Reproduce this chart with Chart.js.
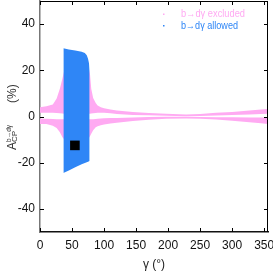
<!DOCTYPE html>
<html>
<head>
<meta charset="utf-8">
<script src="https://cdn.jsdelivr.net/npm/chart.js@4.4.1/dist/chart.umd.min.js"></script>
<style>
  html, body { margin: 0; padding: 0; background: #fff; }
  #wrap { width: 273px; height: 273px; }
</style>
</head>
<body>
<div id="wrap"><canvas id="chart" width="273" height="273"></canvas></div>
<script>
// tick labels
const xTicks = [0, 50, 100, 150, 200, 250, 300, 350];
const yTicks = [-40, -20, 0, 20, 40];

// b->dgamma excluded band (pink)
const gammaExcl = [0, 10, 20, 26, 31, 35, 38, 45, 55, 65, 75, 78, 80, 83, 87, 90, 95, 100, 110, 120, 145, 170, 197, 228, 250, 275, 300, 327, 345, 356];
const upperOuter = [4.0, 4.4, 5.2, 7.8, 12, 16.5, 20, 25, 26, 25, 22, 18.5, 12, 8, 5.8, 4.8, 4.0, 3.6, 3.0, 2.6, 1.9, 1.5, 1.2, 0.9, 1.1, 1.6, 2.0, 2.6, 3.0, 3.3];
const upperInner = [1.6, 1.6, 1.6, 1.5, 1.4, 1.3, 1.2, 1.2, 1.2, 1.2, 1.2, 1.2, 1.3, 1.4, 1.5, 1.6, 1.6, 1.6, 1.4, 1.1, 0.7, 0.5, 0.3, 0.15, 0.2, 0.4, 0.6, 0.9, 1.1, 1.2];
const lowerInner = [-1.0, -1.0, -1.1, -1.2, -1.2, -1.2, -1.2, -1.2, -1.2, -1.2, -1.2, -1.2, -1.2, -1.2, -1.1, -1.0, -0.9, -0.8, -0.7, -0.6, -0.4, -0.2, -0.1, -0.1, -0.2, -0.3, -0.3, -0.4, -0.4, -0.4];
const lowerOuter = [-3.2, -3.2, -4.0, -5.0, -6.8, -9.0, -10, -12, -12, -12, -10, -8.5, -7.5, -6.0, -4.6, -4.2, -3.8, -3.5, -3.0, -2.7, -1.9, -1.4, -1.0, -0.9, -1.0, -1.3, -1.8, -2.5, -2.9, -3.2];

// b->dgamma allowed region (blue)
const gammaAllowed = [36.5, 45, 55, 65, 70, 73, 75, 76.5, 77.5];
const allowedTop = [29.5, 29.0, 28.6, 28.0, 27.5, 26.5, 25.0, 23.0, 20.0];
const allowedBottom = [-24.5, -23.4, -22.0, -20.7, -20.1, -19.8, -19.6, -19.4, -19.3];

// black marker
const markGamma = [54.5];
const markAcp = [-12.5];

const pink = 'rgb(255,170,242)';
const blue = 'rgb(47,134,246)';
const fontFam = "'Liberation Sans Narrow', 'Liberation Sans', Arial, sans-serif";

function pts(xs, ys) {
  return xs.map((x, i) => ({ x: x, y: ys[i] }));
}

function area(label, xs, ys, color, fill) {
  return {
    type: 'line',
    label: label,
    data: pts(xs, ys),
    borderColor: 'transparent',
    borderWidth: 0,
    backgroundColor: color,
    pointRadius: 0,
    fill: fill
  };
}

function noPad(s) {
  s.paddingTop = 0;
  s.paddingBottom = 0;
  s.paddingLeft = 0;
  s.paddingRight = 0;
}

// frame, inward tick marks, y title and legend
const decorations = {
  id: 'decorations',
  afterDraw(chart) {
    const ctx = chart.ctx;
    const a = chart.chartArea;
    const xs = chart.scales.x;
    const ys = chart.scales.y;
    ctx.save();
    ctx.strokeStyle = '#000';
    ctx.lineWidth = 1;
    ctx.beginPath();
    ctx.moveTo(a.left, a.top + 0.5);
    ctx.lineTo(a.right, a.top + 0.5);
    ctx.moveTo(a.right - 0.5, a.top);
    ctx.lineTo(a.right - 0.5, a.bottom);
    xTicks.forEach(v => {
      const px = Math.round(xs.getPixelForValue(v)) + 0.5;
      ctx.moveTo(px, a.bottom);
      ctx.lineTo(px, a.bottom - 4);
      ctx.moveTo(px, a.top);
      ctx.lineTo(px, a.top + 4);
    });
    yTicks.forEach(v => {
      const py = Math.round(ys.getPixelForValue(v)) + 0.5;
      ctx.moveTo(a.left, py);
      ctx.lineTo(a.left + 4, py);
      ctx.moveTo(a.right, py);
      ctx.lineTo(a.right - 4, py);
    });
    ctx.stroke();

    // y axis title: A_CP^{b->dgamma} (%)
    ctx.fillStyle = '#333';
    ctx.translate(16, 150);
    ctx.rotate(-Math.PI / 2);
    ctx.textBaseline = 'alphabetic';
    ctx.font = '12px ' + fontFam;
    ctx.fillText('A', 0, 0);
    const wA = ctx.measureText('A').width;
    ctx.font = '8px ' + fontFam;
    ctx.fillText('CP', wA, 0.5);
    ctx.fillText('b\u2192d\u03b3', wA, -5, 17);
    ctx.font = '12px ' + fontFam;
    ctx.fillText('(%)', 47, 0);
    ctx.restore();

    // legend
    ctx.save();
    ctx.font = '11px ' + fontFam;
    ctx.textBaseline = 'middle';
    const rows = [['b\u2192d\u03b3 excluded', pink, 14, 64], ['b\u2192d\u03b3 allowed', blue, 25.5, 57]];
    rows.forEach(r => {
      ctx.fillStyle = r[1];
      ctx.fillRect(163, r[2] - 0.5, 1.5, 1.5);
      ctx.fillText(r[0], 181, r[2], r[3]);
    });
    ctx.restore();
  }
};

new Chart(document.getElementById('chart'), {
  type: 'line',
  data: {
    datasets: [
      {
        type: 'scatter',
        label: 'point',
        data: pts(markGamma, markAcp),
        pointStyle: 'rect',
        pointRadius: 6.8,
        backgroundColor: '#000',
        borderColor: '#000',
        borderWidth: 0
      },
      area('b\u2192d\u03b3 allowed', gammaAllowed, allowedTop, blue, '+1'),
      area('allowed lower', gammaAllowed, allowedBottom, blue, false),
      area('b\u2192d\u03b3 excluded', gammaExcl, upperOuter, pink, '+1'),
      area('excluded upper inner', gammaExcl, upperInner, pink, false),
      area('excluded lower inner', gammaExcl, lowerInner, pink, '+1'),
      area('excluded lower outer', gammaExcl, lowerOuter, pink, false)
    ]
  },
  options: {
    responsive: false,
    animation: false,
    devicePixelRatio: 1,
    layout: { autoPadding: false, padding: { top: 1, right: 5, left: 0, bottom: 0 } },
    plugins: {
      legend: { display: false },
      tooltip: { enabled: false }
    },
    scales: {
      x: {
        type: 'linear',
        min: 0,
        max: 356,
        afterBuildTicks: s => { s.ticks = xTicks.map(v => ({ value: v })); },
        afterFit: s => { s.height = 41; noPad(s); },
        grid: { display: false, drawTicks: false, tickLength: 0 },
        border: { display: true, color: '#111', width: 1.5 },
        ticks: { color: '#111', padding: 6, maxRotation: 0, font: { family: fontFam, size: 12 } },
        title: {
          display: true,
          text: '\u03b3 (\u00b0)',
          color: '#222',
          padding: { top: 0, bottom: 1 },
          font: { family: fontFam, size: 12 }
        }
      },
      y: {
        type: 'linear',
        min: -50,
        max: 50,
        afterBuildTicks: s => { s.ticks = yTicks.map(v => ({ value: v })); },
        afterFit: s => { s.width = 40; noPad(s); },
        grid: { display: false, drawTicks: false, tickLength: 0 },
        border: { display: true, color: '#777', width: 1.5 },
        ticks: { color: '#111', padding: 5, font: { family: fontFam, size: 12 } }
      }
    }
  },
  plugins: [decorations]
});
</script>
</body>
</html>
